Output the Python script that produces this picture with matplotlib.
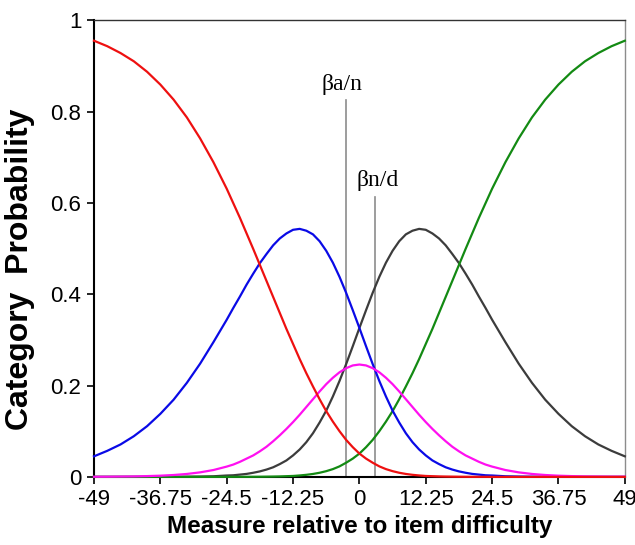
# Category probability curves (rating scale, 5 categories)
# values

# load Libraries
#------------------------------------------------------------------------------
import matplotlib
matplotlib.use('Agg')
import matplotlib.pyplot as plt
#------------------------------------------------------------------------------

# set global plt parameters
#------------------------------------------------------------------------------
plt.rcParams['font.family'] = ['Liberation Sans', 'DejaVu Sans']
plt.rcParams['font.size'] = 16
plt.rcParams['axes.linewidth'] = 1.5
#------------------------------------------------------------------------------

# data
#------------------------------------------------------------------------------
measure = [-49, -46.55, -44.1, -41.65, -39.2, -36.75, -34.3, -31.85, -29.4, -26.95,
           -24.5, -23.275, -22.05, -20.825, -19.6, -18.375, -17.15, -15.925, -14.7, -13.475,
           -12.25, -11.025, -9.8, -8.575, -7.35, -6.125, -4.9, -3.675, -2.45, -1.225,
           0,
           1.225, 2.45, 3.675, 4.9, 6.125, 7.35, 8.575, 9.8, 11.025, 12.25,
           13.475, 14.7, 15.925, 17.15, 18.375, 19.6, 20.825, 22.05, 23.275, 24.5,
           26.95, 29.4, 31.85, 34.3, 36.75, 39.2, 41.65, 44.1, 46.55, 49]

p_red = [0.955, 0.943, 0.928, 0.910, 0.887, 0.859, 0.826, 0.787, 0.741, 0.689,
         0.631, 0.599, 0.567, 0.533, 0.499, 0.464, 0.429, 0.394, 0.359, 0.324,
         0.291, 0.258, 0.227, 0.198, 0.170, 0.144, 0.121, 0.100, 0.081, 0.065,
         0.051,
         0.040, 0.031, 0.023, 0.017, 0.0125, 0.009, 0.0064, 0.0045, 0.0031, 0.002,
         0.0015, 0.001, 0.0007, 0.0005, 0.0003, 0.0002, 0.0001, 0.0001, 0.0001, 0.0,
         0.0, 0.0, 0.0, 0.0, 0.0, 0.0, 0.0, 0.0, 0.0, 0.0]
p_blue = [0.045, 0.057, 0.071, 0.089, 0.111, 0.138, 0.169, 0.206, 0.248, 0.295,
          0.344, 0.370, 0.395, 0.421, 0.445, 0.468, 0.488, 0.507, 0.522, 0.533,
          0.541, 0.543, 0.539, 0.531, 0.516, 0.495, 0.469, 0.438, 0.403, 0.365,
          0.326,
          0.286, 0.247, 0.210, 0.176, 0.145, 0.119, 0.0955, 0.076, 0.060, 0.047,
          0.036, 0.028, 0.021, 0.016, 0.012, 0.009, 0.0065, 0.005, 0.0035, 0.003,
          0.0013, 0.0007, 0.0004, 0.0002, 0.0001, 0.0, 0.0, 0.0, 0.0, 0.0]
p_magenta = [0.0003, 0.0004, 0.0007, 0.0010, 0.0017, 0.0026, 0.0041, 0.0064, 0.0099, 0.015,
             0.0225, 0.027, 0.033, 0.040, 0.047, 0.056, 0.066, 0.078, 0.091, 0.105,
             0.120, 0.136, 0.153, 0.170, 0.187, 0.203, 0.217, 0.229, 0.238, 0.244,
             0.246,
             0.244, 0.238, 0.229, 0.217, 0.203, 0.187, 0.170, 0.153, 0.136, 0.120,
             0.105, 0.091, 0.078, 0.066, 0.056, 0.047, 0.040, 0.033, 0.027, 0.0225,
             0.015, 0.0099, 0.0064, 0.0041, 0.0026, 0.0017, 0.0010, 0.0007, 0.0004, 0.0003]
p_gray = [0.0, 0.0, 0.0, 0.0, 0.0, 0.0001, 0.0002, 0.0004, 0.0007, 0.0013,
          0.003, 0.0035, 0.005, 0.0065, 0.009, 0.012, 0.016, 0.021, 0.028, 0.036,
          0.047, 0.060, 0.076, 0.0955, 0.119, 0.145, 0.176, 0.210, 0.247, 0.286,
          0.326,
          0.365, 0.403, 0.438, 0.469, 0.495, 0.516, 0.531, 0.539, 0.543, 0.541,
          0.533, 0.522, 0.507, 0.488, 0.468, 0.445, 0.421, 0.395, 0.370, 0.344,
          0.295, 0.248, 0.206, 0.169, 0.138, 0.111, 0.089, 0.071, 0.057, 0.045]
p_green = [0.0, 0.0, 0.0, 0.0, 0.0, 0.0, 0.0, 0.0, 0.0, 0.0,
           0.0, 0.0001, 0.0001, 0.0001, 0.0002, 0.0003, 0.0005, 0.0007, 0.001, 0.0015,
           0.002, 0.0031, 0.0045, 0.0064, 0.009, 0.0125, 0.017, 0.023, 0.031, 0.040,
           0.051,
           0.065, 0.081, 0.100, 0.121, 0.144, 0.170, 0.198, 0.227, 0.258, 0.291,
           0.324, 0.359, 0.394, 0.429, 0.464, 0.499, 0.533, 0.567, 0.599, 0.631,
           0.689, 0.741, 0.787, 0.826, 0.859, 0.887, 0.910, 0.928, 0.943, 0.955]

# threshold markers: label, position, top of the line
thresholds = ['βa/n', 'βn/d']
threshold_pos = [-2.5, 2.95]
threshold_top = [0.825, 0.613]
label_dx = [-0.8, 0.4]

x_ticks = [-49, -36.75, -24.5, -12.25, 0, 12.25, 24.5, 36.75, 49]
x_ticklabels = ['-49', '-36.75', '-24.5', '-12.25', '0', '12.25', '24.5', '36.75', '49']
y_ticks = [0, 0.2, 0.4, 0.6, 0.8, 1]
y_ticklabels = ['0', '0.2', '0.4', '0.6', '0.8', '1']
#------------------------------------------------------------------------------

# plot
#------------------------------------------------------------------------------
fig = plt.figure(figsize=(6.35, 5.45), dpi=100)
ax = fig.add_axes([0.148, 0.125, 0.836, 0.838])

# vertical threshold lines first, curves on top
for lab, xp, top, dx in zip(thresholds, threshold_pos, threshold_top, label_dx):
    ax.plot([xp, xp], [0, top], color='#8c8c8c', lw=1.2, zorder=1)
    ax.text(xp + dx, top + 0.012, lab, ha='center', va='bottom',
            fontsize=17, family=['Liberation Serif', 'DejaVu Serif'])

ax.plot(measure, p_gray, color='#3c3c3c', lw=1.6, clip_on=False, zorder=3)
ax.plot(measure, p_green, color='#138a13', lw=1.6, clip_on=False, zorder=3)
ax.plot(measure, p_blue, color='#0a0ae6', lw=1.6, clip_on=False, zorder=3)
ax.plot(measure, p_magenta, color='#ff10f0', lw=1.6, clip_on=False, zorder=3)
ax.plot(measure, p_red, color='#ee1010', lw=1.6, clip_on=False, zorder=3)

ax.set_xlim(-49, 49)
ax.set_ylim(0, 1)
ax.set_xticks(x_ticks)
ax.set_xticklabels(x_ticklabels)
ax.set_yticks(y_ticks)
ax.set_yticklabels(y_ticklabels)
ax.tick_params(direction='out', length=5, width=1.2, pad=4, labelsize=16)

ax.spines['top'].set_color('#333333')
ax.spines['top'].set_linewidth(1.0)
ax.spines['right'].set_color('#8c8c8c')
ax.spines['right'].set_linewidth(1.0)

ax.set_xlabel('Measure relative to item difficulty', fontsize=17.5,
              fontweight='bold', labelpad=3)
ax.set_ylabel('Category  Probability', fontsize=23, fontweight='bold')
ax.yaxis.set_label_coords(-0.112, 0.455)

fig.savefig('out.png', dpi=100)
#------------------------------------------------------------------------------
